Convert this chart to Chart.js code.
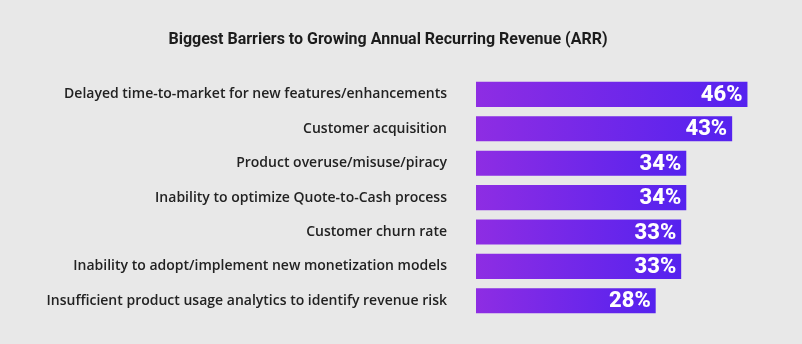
<!DOCTYPE html>
<html lang="en">
<head>
    <meta charset="UTF-8">
    <title>Biggest Barriers to Growing Annual Recurring Revenue (ARR)</title>
    <script src="https://cdn.jsdelivr.net/npm/chart.js"></script>
    <style>
        html, body {
            margin: 0;
            padding: 0;
            background-color: #e8e8e8;
            overflow: hidden;
        }
        canvas {
            display: block;
        }
    </style>
</head>
<body>
    <canvas id="myChart" width="802" height="344"></canvas>

    <script>
        // data
        const titleText = 'Biggest Barriers to Growing Annual Recurring Revenue (ARR)';
        const categories = [
            'Delayed time-to-market for new features/enhancements',
            'Customer acquisition',
            'Product overuse/misuse/piracy',
            'Inability to optimize Quote-to-Cash process',
            'Customer churn rate',
            'Inability to adopt/implement new monetization models',
            'Insufficient product usage analytics to identify revenue risk'
        ];
        const percentValues = [46, 43, 34, 34, 33, 33, 28];

        const axisMin = -7.25; // bars start a bit before zero in the original
        const axisMax = 51.6;

        // each bar gets its own left->right gradient
        function barGradient(context) {
            const chart = context.chart;
            const xScale = chart.scales.x;
            if (!chart.chartArea || !xScale || context.dataIndex === undefined) {
                return '#7028e8';
            }
            const x0 = xScale.getPixelForValue(axisMin);
            const x1 = xScale.getPixelForValue(percentValues[context.dataIndex]);
            const g = chart.ctx.createLinearGradient(x0, 0, x1, 0);
            g.addColorStop(0, '#8e2de3');
            g.addColorStop(1, '#5522ef');
            return g;
        }

        const valueLabels = {
            id: 'valueLabels',
            afterDatasetsDraw(chart) {
                const ctx = chart.ctx;
                const meta = chart.getDatasetMeta(0);
                ctx.save();
                ctx.font = '800 22px Roboto, sans-serif';
                ctx.fillStyle = '#ffffff';
                ctx.textAlign = 'right';
                ctx.textBaseline = 'middle';
                meta.data.forEach((bar, i) => {
                    ctx.fillText(percentValues[i] + '%', bar.x - 5, bar.y + 1);
                });
                ctx.restore();
            }
        };

        const ctx = document.getElementById('myChart').getContext('2d');
        new Chart(ctx, {
            type: 'bar',
            data: {
                labels: categories,
                datasets: [{
                    data: percentValues,
                    base: axisMin,
                    backgroundColor: barGradient,
                    borderWidth: 0,
                    categoryPercentage: 0.73,
                    barPercentage: 1.0
                }]
            },
            options: {
                indexAxis: 'y',
                responsive: false,
                animation: false,
                devicePixelRatio: 1,
                layout: {
                    padding: { left: 0, right: 26, top: 0, bottom: 26 }
                },
                scales: {
                    x: {
                        display: false,
                        min: axisMin,
                        max: axisMax
                    },
                    y: {
                        grid: { display: false, drawTicks: false },
                        border: { display: false },
                        ticks: {
                            padding: 29,
                            color: '#222222',
                            font: { family: '"Open Sans", sans-serif', size: 14, weight: '600' }
                        },
                        afterFit(scale) {
                            scale.width = 476; // bars start at x = 476
                            scale.paddingTop = 0;
                            scale.paddingBottom = 0;
                        }
                    }
                },
                plugins: {
                    legend: { display: false },
                    tooltip: { enabled: false },
                    title: {
                        display: true,
                        text: titleText,
                        color: '#1c1c1c',
                        font: { family: 'Roboto, sans-serif', size: 16, weight: '700', lineHeight: 1.2 },
                        padding: { top: 30, bottom: 28 }
                    }
                }
            },
            plugins: [valueLabels]
        });
    </script>
</body>
</html>
